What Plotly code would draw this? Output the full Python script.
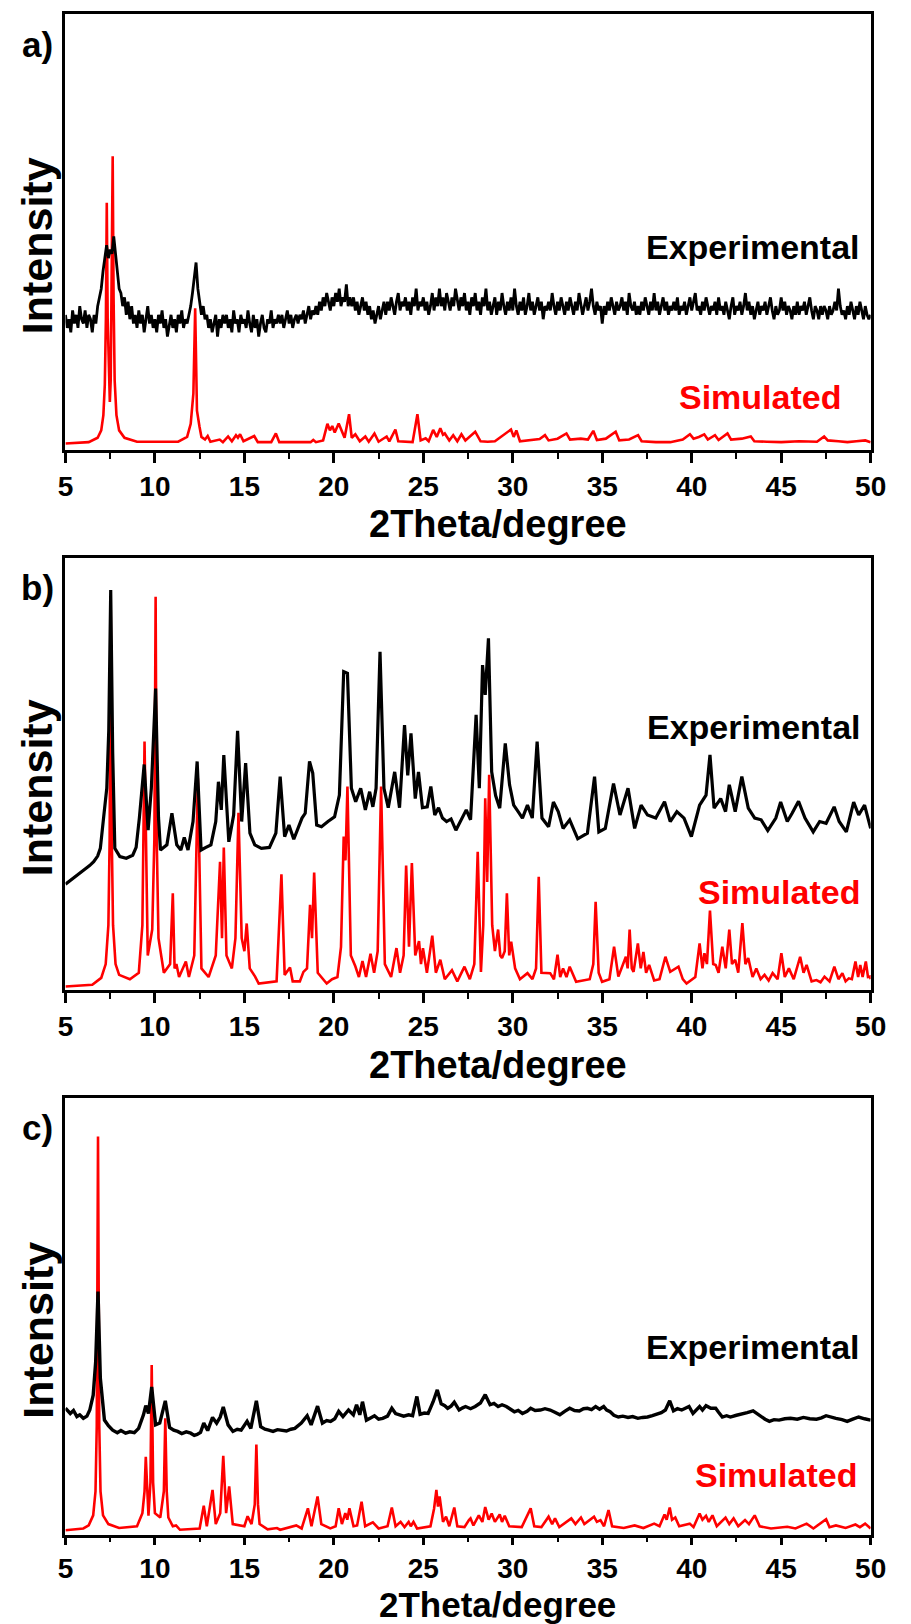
import plotly.graph_objects as go

# ---------------- data (2Theta in degree, intensity in % of panel height) ----------------
# Panel a) experimental: sampled every 0.1 degree from 5.0 to 50.0 (one row per degree)
a_exp_step = 0.1
a_exp_y = [
    31, 28, 30, 27, 32, 29, 31, 28, 33, 30,   # 5
    29, 32, 28, 31, 30, 27, 31, 29, 33, 35,   # 6
    37, 41, 44, 47, 44, 46, 45, 49, 45, 41,   # 7
    37, 36, 33, 35, 31, 34, 30, 33, 29, 31,   # 8
    28, 32, 29, 31, 27, 30, 33, 29, 31, 28,   # 9
    30, 27, 31, 29, 32, 28, 30, 26, 29, 31,   # 10
    28, 30, 27, 31, 29, 32, 28, 30, 29, 31,   # 11
    33, 36, 40, 43, 37, 34, 31, 33, 30, 31,   # 12
    28, 30, 27, 29, 31, 26, 30, 28, 31, 29,   # 13
    31, 28, 30, 27, 32, 29, 30, 27, 31, 29,   # 14
    30, 28, 32, 29, 27, 31, 28, 30, 26, 29,   # 15
    31, 28, 27, 30, 29, 32, 28, 30, 29, 31,   # 16
    29, 31, 28, 30, 32, 29, 31, 28, 30, 31,   # 17
    29, 31, 30, 32, 29, 31, 33, 30, 32, 31,   # 18
    33, 31, 34, 32, 35, 33, 36, 34, 32, 35,   # 19
    33, 36, 34, 37, 33, 35, 34, 38, 33, 35,   # 20
    33, 35, 32, 34, 31, 33, 35, 32, 34, 31,   # 21
    33, 30, 32, 29, 31, 33, 30, 32, 34, 31,   # 22
    34, 32, 35, 33, 31, 34, 36, 32, 34, 33,   # 23
    35, 32, 34, 31, 35, 33, 37, 32, 34, 33,   # 24
    35, 32, 34, 31, 33, 36, 32, 35, 33, 37,   # 25
    33, 35, 32, 36, 34, 32, 35, 33, 37, 34,   # 26
    32, 35, 33, 36, 32, 34, 31, 35, 33, 36,   # 27
    32, 34, 31, 35, 33, 37, 32, 34, 31, 33,   # 28
    35, 31, 34, 32, 36, 33, 31, 34, 32, 35,   # 29
    32, 37, 33, 31, 34, 32, 35, 31, 33, 36,   # 30
    32, 34, 31, 33, 35, 32, 34, 30, 33, 32,   # 31
    34, 32, 36, 33, 31, 34, 32, 35, 33, 31,   # 32
    34, 32, 35, 33, 31, 34, 32, 36, 33, 31,   # 33
    33, 35, 32, 34, 37, 33, 31, 34, 32, 33,   # 34
    29, 33, 31, 34, 32, 35, 33, 31, 34, 32,   # 35
    33, 35, 32, 34, 31, 36, 33, 32, 34, 31,   # 36
    33, 31, 34, 32, 35, 33, 31, 34, 32, 36,   # 37
    32, 34, 31, 33, 35, 32, 34, 31, 33, 32,   # 38
    34, 32, 35, 31, 33, 32, 34, 31, 33, 35,   # 39
    32, 34, 36, 32, 33, 31, 34, 32, 35, 33,   # 40
    31, 33, 32, 34, 31, 35, 32, 33, 31, 34,   # 41
    32, 30, 33, 35, 31, 33, 32, 34, 31, 33,   # 42
    36, 32, 34, 31, 33, 30, 32, 34, 31, 33,   # 43
    32, 34, 31, 33, 35, 32, 30, 33, 31, 32,   # 44
    35, 32, 34, 31, 33, 32, 30, 33, 31, 34,   # 45
    31, 33, 32, 34, 31, 33, 35, 32, 30, 33,   # 46
    32, 30, 33, 31, 33, 32, 30, 33, 31, 32,   # 47
    34, 32, 37, 33, 31, 32, 30, 33, 31, 34,   # 48
    32, 30, 33, 31, 34, 32, 30, 33, 31, 30,   # 49
    31,                                       # 50
]
a_exp_x = [round(5 + a_exp_step * i, 2) for i in range(len(a_exp_y))]

a_sim = [(5.0, 1.5), (6.3, 1.8), (6.8, 2.8), (7.0, 4.5), (7.12, 8), (7.2, 15), (7.26, 30), (7.31, 56.7),
         (7.36, 30), (7.42, 16), (7.48, 11), (7.53, 16), (7.58, 35), (7.64, 67.4), (7.69, 35), (7.75, 16),
         (7.85, 8), (8.0, 4.5), (8.3, 2.8), (9.0, 1.9), (11.3, 1.9), (11.8, 3), (12.0, 6), (12.15, 13),
         (12.25, 32.5), (12.35, 9), (12.49, 5.4), (12.6, 3), (12.8, 2.4), (12.95, 3.2), (13.1, 1.9),
         (13.62, 2.4), (13.8, 1.8), (14.09, 3.1), (14.3, 2.0), (14.53, 3.4), (14.64, 2.8), (14.76, 3.6),
         (14.95, 2.0), (15.55, 3.2), (15.75, 1.8), (16.5, 1.8), (16.76, 3.8), (16.95, 1.8), (18.7, 1.8),
         (18.85, 2.3), (19.0, 1.8), (19.4, 2.2), (19.64, 6.0), (19.78, 4.5), (19.91, 5.5), (20.05, 4.0),
         (20.27, 6.1), (20.4, 4.6), (20.6, 2.8), (20.85, 8.2), (21.0, 2.8), (21.2, 3.6), (21.45, 2.0),
         (21.76, 3.1), (21.95, 1.9), (22.27, 3.8), (22.5, 1.9), (22.95, 3.1), (23.1, 2.0), (23.44, 4.7),
         (23.6, 2.0), (24.4, 1.8), (24.67, 8.2), (24.85, 2.2), (25.13, 2.7), (25.3, 2.0), (25.55, 4.6),
         (25.75, 3.0), (25.95, 5.0), (26.1, 3.5), (26.2, 3.8), (26.45, 2.2), (26.67, 3.4), (26.9, 2.0),
         (27.13, 3.6), (27.35, 2.2), (27.9, 4.2), (28.2, 2.0), (28.6, 1.9), (29.0, 2.0), (29.9, 4.7),
         (30.05, 3.0), (30.2, 4.5), (30.4, 2.0), (31.0, 2.2), (31.5, 2.5), (31.8, 3.4), (32.0, 2.2),
         (32.5, 2.6), (33.0, 3.8), (33.2, 2.4), (33.8, 2.6), (34.2, 2.4), (34.5, 4.4), (34.7, 2.3),
         (35.2, 2.6), (35.75, 4.2), (35.95, 2.2), (36.5, 2.4), (37.0, 3.4), (37.2, 2.0), (38.0, 1.8),
         (38.8, 1.8), (39.5, 2.4), (39.9, 3.6), (40.1, 2.6), (40.4, 3.0), (40.7, 3.6), (40.9, 2.4),
         (41.3, 3.4), (41.5, 2.3), (42.0, 3.8), (42.2, 2.4), (42.8, 2.6), (43.3, 3.1), (43.5, 2.0),
         (44.2, 1.9), (45.0, 1.8), (46.0, 2.0), (47.0, 1.9), (47.4, 3.1), (47.6, 2.2), (48.2, 2.0),
         (48.7, 1.8), (49.2, 2.0), (49.7, 2.2), (50.0, 1.8)]

# Panel b)
b_exp = [(5.0, 24.5), (5.3, 25.5), (5.6, 26.5), (5.85, 27.4), (6.1, 28), (6.35, 28.8), (6.58, 29.7),
         (6.8, 31), (6.95, 32.8), (7.13, 39.8), (7.31, 46.7), (7.42, 60), (7.53, 92.6), (7.64, 55),
         (7.76, 32.8), (8.04, 30.9), (8.4, 30.5), (8.76, 31.2), (8.95, 33), (9.13, 39.8), (9.4, 52.2),
         (9.62, 37.0), (9.8, 46.7), (10.04, 69.8), (10.2, 40), (10.31, 32.4), (10.67, 33.6), (10.95, 40.9),
         (11.22, 33.6), (11.45, 32.4), (11.64, 35.3), (11.85, 32.4), (12.13, 39), (12.36, 52.9),
         (12.58, 32.4), (12.85, 33), (13.13, 33.6), (13.4, 39.0), (13.55, 48.2), (13.71, 41.7),
         (13.85, 54.4), (14.13, 34.3), (14.4, 40.5), (14.62, 60.0), (14.85, 39.0), (15.07, 52.5),
         (15.31, 36.3), (15.58, 33.6), (15.95, 32.8), (16.4, 33.0), (16.76, 36.3), (17.0, 49.4),
         (17.25, 35.5), (17.49, 38.2), (17.76, 34.9), (18.22, 39.8), (18.4, 40.9), (18.64, 52.9),
         (18.82, 50.2), (19.04, 38.2), (19.31, 37.8), (19.67, 39.0), (20.04, 40.1), (20.31, 45.1),
         (20.45, 60), (20.55, 73.7), (20.76, 73.3), (20.88, 60), (20.98, 46.7), (21.22, 43.6),
         (21.5, 46.7), (21.76, 41.7), (22.0, 45.9), (22.18, 42.4), (22.36, 46.7), (22.58, 78.3),
         (22.8, 46.7), (23.04, 42.2), (23.4, 50.5), (23.67, 42.2), (23.95, 61.3), (24.13, 49.7),
         (24.31, 59.4), (24.55, 44.3), (24.73, 50.5), (24.95, 42.2), (25.22, 42.4), (25.42, 47.1),
         (25.64, 40.5), (25.85, 42.2), (26.07, 39.8), (26.3, 39.0), (26.55, 39.6), (26.82, 37),
         (27.13, 39.4), (27.4, 41.7), (27.64, 39.4), (27.95, 63.7), (28.13, 46.7), (28.31, 75.2),
         (28.46, 68.3), (28.64, 81.4), (28.82, 50.5), (29.04, 45), (29.27, 42.1), (29.58, 57.1),
         (29.82, 47.5), (30.05, 42.8), (30.3, 41.3), (30.54, 39.8), (30.82, 42.8), (31.09, 39.8),
         (31.36, 57.5), (31.63, 39.8), (32.0, 37.8), (32.27, 43.5), (32.54, 41.3), (32.81, 37.4),
         (33.18, 39.4), (33.63, 35.0), (34.17, 36.3), (34.57, 49.4), (34.81, 36.6), (35.17, 37.4),
         (35.63, 47.8), (35.99, 40.5), (36.44, 46.7), (36.81, 37.4), (37.17, 42.8), (37.53, 40.5),
         (37.99, 39.8), (38.48, 43.6), (38.8, 39.0), (39.17, 41.3), (39.57, 39.8), (39.98, 35.5),
         (40.44, 42.8), (40.8, 45.1), (41.02, 54.4), (41.25, 42.1), (41.62, 44.3), (41.89, 41.3),
         (42.1, 47.5), (42.43, 41.3), (42.8, 49.4), (43.16, 42.1), (43.52, 39.8), (43.88, 39.4),
         (44.25, 36.9), (44.7, 39.8), (44.97, 43.5), (45.34, 39.0), (45.61, 40.9), (45.97, 43.7),
         (46.33, 39.8), (46.79, 36.6), (47.15, 39.0), (47.51, 38.6), (47.96, 42.4), (48.24, 39.0),
         (48.64, 36.6), (49.05, 43.5), (49.33, 40.5), (49.66, 42.8), (50.0, 37.4)]

b_sim = [(5.0, 0.8), (6.5, 1.2), (7.0, 2.8), (7.25, 6), (7.4, 15), (7.47, 35), (7.53, 89), (7.59, 35),
         (7.66, 15), (7.8, 6), (8.0, 3.5), (8.6, 2.5), (9.1, 4), (9.3, 15), (9.42, 57.5), (9.6, 8),
         (9.85, 14), (9.97, 35), (10.04, 91), (10.1, 35), (10.2, 12), (10.5, 4), (10.85, 6), (11.0, 22.4),
         (11.1, 5), (11.2, 6), (11.35, 3), (11.73, 6.6), (11.9, 3), (12.2, 8), (12.4, 49), (12.6, 5),
         (13.0, 3), (13.4, 8), (13.64, 29.7), (13.75, 12), (13.85, 33), (14.0, 8), (14.3, 5), (14.5, 12),
         (14.67, 41), (14.85, 12), (15.0, 9), (15.13, 15.4), (15.3, 5), (15.6, 3.1), (15.8, 1.5),
         (16.8, 2), (17.07, 26.8), (17.25, 3.5), (17.55, 5.2), (17.7, 2), (18.1, 2), (18.3, 4.2),
         (18.5, 5), (18.67, 19.7), (18.78, 12), (18.9, 27.2), (19.1, 4), (19.6, 1.5), (19.9, 2.5),
         (20.2, 3), (20.4, 10), (20.55, 35.5), (20.65, 30), (20.76, 47.1), (20.95, 8), (21.2, 5.5),
         (21.4, 3), (21.6, 6.7), (21.8, 3), (22.05, 8.4), (22.25, 4), (22.45, 9), (22.64, 47.1),
         (22.85, 6), (23.2, 3), (23.5, 9.7), (23.7, 4), (23.9, 8), (24.04, 28.8), (24.2, 10),
         (24.36, 29.4), (24.55, 8), (24.76, 11.3), (24.87, 6), (24.98, 9.7), (25.2, 4), (25.5, 12.6),
         (25.7, 4), (25.95, 7.0), (26.2, 2.5), (26.6, 4.6), (26.9, 2), (27.3, 5.4), (27.6, 2.5),
         (27.85, 6), (28.04, 32), (28.22, 4.2), (28.35, 15), (28.46, 44.4), (28.57, 25), (28.68, 49.8),
         (28.85, 15), (29.0, 9), (29.18, 14), (29.3, 8), (29.4, 7.4), (29.55, 9), (29.67, 22.4),
         (29.8, 8), (29.91, 11.2), (30.13, 5), (30.4, 2.5), (30.82, 3.9), (31.1, 2.5), (31.3, 5),
         (31.45, 26.2), (31.6, 4), (32.09, 3.9), (32.3, 2.5), (32.5, 8.2), (32.65, 3), (32.81, 5),
         (33.0, 3), (33.18, 5.4), (33.54, 1.9), (34.3, 2.5), (34.5, 6), (34.63, 20.4), (34.8, 4),
         (34.99, 1.9), (35.4, 2.5), (35.66, 10), (35.9, 3.1), (36.32, 7.7), (36.42, 5), (36.53, 14),
         (36.65, 5), (36.75, 4.2), (36.99, 10.8), (37.15, 5), (37.3, 8.8), (37.45, 4), (37.62, 5.8),
         (37.9, 2.2), (38.2, 2.5), (38.53, 7.7), (38.8, 4.2), (39.26, 5.4), (39.5, 2.5), (39.71, 1.5),
         (40.2, 3), (40.44, 10.8), (40.6, 5), (40.71, 8.5), (40.85, 6), (41.02, 18.4), (41.2, 6),
         (41.34, 5.8), (41.5, 4), (41.71, 10), (41.9, 5), (42.1, 14), (42.25, 6), (42.43, 7), (42.6, 4),
         (42.83, 15.5), (43.0, 6), (43.16, 7.4), (43.4, 3), (43.61, 5), (43.85, 2.5), (44.07, 3.5),
         (44.3, 2.2), (44.52, 3.9), (44.8, 2.5), (45.01, 8.5), (45.2, 3), (45.43, 5), (45.7, 2.5),
         (46.06, 7.7), (46.25, 4), (46.42, 5.8), (46.7, 2), (46.97, 2.3), (47.2, 1.8), (47.42, 3.1),
         (47.7, 2), (47.97, 5.4), (48.2, 2.5), (48.42, 3.9), (48.6, 2), (48.78, 2.7), (48.95, 2.5),
         (49.15, 6.6), (49.3, 3), (49.42, 5.8), (49.55, 3), (49.73, 6.6), (49.85, 3), (49.96, 3.1),
         (50.0, 2.5)]

# Panel c)
c_exp = [(5.0, 29.0), (5.27, 27.8), (5.45, 28.5), (5.64, 27.1), (5.8, 27.5), (6.0, 26.7), (6.2, 27.2),
         (6.36, 28.6), (6.55, 32.0), (6.69, 39.7), (6.82, 55.7), (6.95, 35.9), (7.18, 26.3), (7.4, 25),
         (7.64, 24.0), (7.9, 23.4), (8.1, 23.9), (8.36, 23.3), (8.6, 23.6), (8.85, 23.4), (9.09, 24.4),
         (9.36, 27.5), (9.49, 29.6), (9.64, 27.8), (9.82, 33.9), (10.04, 25.2), (10.27, 25.6),
         (10.58, 30.7), (10.82, 24.6), (11.05, 24.0), (11.27, 23.7), (11.5, 23.2), (11.75, 23.6),
         (12.0, 23.3), (12.2, 22.8), (12.36, 23.0), (12.55, 23.5), (12.73, 25.6), (12.95, 23.9),
         (13.22, 26.9), (13.45, 25.6), (13.65, 27), (13.82, 29.3), (14.09, 25.2), (14.36, 23.7),
         (14.6, 24.2), (14.82, 24.0), (15.15, 26.0), (15.36, 24.4), (15.67, 30.7), (15.91, 24.8),
         (16.15, 24.2), (16.36, 24.0), (16.6, 23.7), (16.85, 24.1), (17.09, 24.0), (17.35, 23.8),
         (17.6, 24.2), (17.82, 24.4), (18.18, 25.6), (18.51, 27.3), (18.73, 25.2), (19.09, 29.5),
         (19.36, 25.6), (19.6, 26.2), (19.82, 26.0), (20.05, 26.6), (20.27, 28.3), (20.51, 27.1),
         (20.82, 28.6), (21.09, 27.5), (21.27, 29.8), (21.45, 27.5), (21.6, 30.5), (21.82, 26.3),
         (22.05, 26.8), (22.27, 27.3), (22.5, 26.5), (22.73, 26.7), (23.0, 27.2), (23.24, 29.0),
         (23.45, 27.8), (23.64, 27.6), (23.9, 27.2), (24.18, 27.5), (24.4, 27.3), (24.64, 31.7),
         (24.82, 27.6), (25.05, 27.9), (25.27, 27.8), (25.55, 30.5), (25.78, 33.2), (26.0, 30.0),
         (26.2, 29.6), (26.36, 29.0), (26.55, 29.5), (26.73, 30.4), (27.0, 28.6), (27.2, 29.1),
         (27.36, 29.4), (27.64, 28.9), (27.9, 29.4), (28.19, 30.2), (28.46, 32.1), (28.73, 29.8),
         (28.95, 30.1), (29.18, 29.4), (29.4, 29.8), (29.64, 29.4), (29.85, 28.9), (30.09, 28.2),
         (30.3, 28.5), (30.54, 27.8), (30.8, 28.3), (31.0, 29.0), (31.25, 28.5), (31.54, 28.6),
         (31.8, 28.9), (32.09, 28.6), (32.35, 28.1), (32.63, 27.5), (32.9, 28.3), (33.18, 29.0),
         (33.45, 28.5), (33.72, 28.4), (33.95, 28.9), (34.17, 29.0), (34.4, 28.7), (34.63, 29.4),
         (34.85, 28.8), (35.08, 29.4), (35.25, 28.6), (35.44, 28.2), (35.65, 27.4), (35.9, 27.0),
         (36.15, 27.2), (36.44, 26.9), (36.7, 27.1), (36.99, 26.7), (37.25, 26.9), (37.53, 27.0),
         (37.8, 27.3), (38.08, 27.6), (38.3, 28.0), (38.53, 28.6), (38.77, 30.7), (38.98, 28.4),
         (39.2, 28.9), (39.44, 28.6), (39.65, 29.0), (39.85, 29.4), (40.07, 27.8), (40.25, 28.7),
         (40.44, 29.4), (40.6, 28.6), (40.8, 29.6), (41.07, 29.0), (41.34, 29.0), (41.5, 28.1),
         (41.71, 27.0), (41.95, 27.3), (42.16, 27.0), (42.5, 27.4), (42.79, 27.6), (43.1, 28.0),
         (43.43, 28.4), (43.65, 27.8), (43.88, 27.0), (44.1, 26.5), (44.34, 26.0), (44.6, 26.4),
         (44.88, 26.3), (45.2, 26.6), (45.52, 26.7), (45.9, 26.5), (46.24, 26.9), (46.6, 26.6),
         (46.97, 26.5), (47.25, 26.8), (47.51, 27.3), (47.8, 26.9), (48.06, 26.7), (48.4, 26.4),
         (48.69, 26.0), (49.0, 26.5), (49.33, 27.0), (49.66, 26.6), (50.0, 26.3)]

c_sim = [(5.0, 1.1), (6.0, 1.5), (6.3, 2.2), (6.55, 4.5), (6.68, 10), (6.75, 25), (6.82, 91.2),
         (6.89, 25), (6.96, 10), (7.1, 4.5), (7.4, 2.5), (8.0, 1.6), (9.0, 2), (9.3, 5), (9.42, 10),
         (9.49, 17.9), (9.64, 4.4), (9.75, 12), (9.82, 38.9), (9.9, 12), (10.0, 5), (10.3, 4), (10.5, 10),
         (10.58, 26.7), (10.66, 10), (10.75, 4), (11.0, 2), (11.18, 2.2), (11.4, 1.2), (12.5, 1.5),
         (12.73, 6.7), (12.9, 2), (13.22, 10.3), (13.4, 2.5), (13.65, 5), (13.82, 18.1), (13.98, 5),
         (14.15, 11.1), (14.35, 2.5), (15.0, 2), (15.18, 4.3), (15.4, 2.5), (15.58, 7), (15.67, 20.7),
         (15.76, 7), (15.85, 2.5), (16.3, 1.3), (16.82, 1.6), (17.0, 1.2), (17.9, 2.2), (18.2, 1.5),
         (18.55, 6.1), (18.75, 2), (19.09, 8.8), (19.3, 2.5), (19.8, 1.5), (20.1, 2), (20.27, 6.1),
         (20.45, 2.5), (20.64, 5.0), (20.75, 3.5), (20.87, 6.1), (21.1, 2), (21.3, 2.2), (21.55, 7.6),
         (21.75, 2), (22.18, 2.9), (22.5, 1.5), (23.0, 2), (23.24, 6.3), (23.45, 2), (23.73, 3.0),
         (23.95, 1.8), (24.18, 3.0), (24.3, 2), (24.45, 3.0), (24.65, 1.5), (25.4, 2), (25.6, 6),
         (25.73, 10.3), (25.82, 6.5), (25.91, 8.8), (26.1, 3), (26.27, 4.2), (26.45, 2), (26.73, 6.3),
         (26.9, 2), (27.3, 1.8), (27.55, 3.4), (27.64, 3.8), (27.8, 2.2), (28.1, 4.5), (28.3, 3),
         (28.46, 6.4), (28.65, 3.5), (28.82, 4.9), (29.0, 3), (29.27, 4.7), (29.4, 3), (29.55, 4.4),
         (29.8, 2), (30.5, 1.8), (31.0, 6.1), (31.2, 2), (31.6, 1.8), (32.0, 4.2), (32.2, 2.5),
         (32.36, 3.8), (32.6, 1.8), (33.27, 3.8), (33.5, 2.5), (33.81, 4.0), (34.0, 2.5), (34.54, 4.2),
         (34.7, 3), (34.9, 3.4), (35.1, 2), (35.35, 5.7), (35.55, 2), (36.2, 1.6), (36.81, 2.2),
         (37.3, 1.6), (37.9, 2.6), (38.2, 2), (38.48, 4.7), (38.6, 3.5), (38.77, 6.3), (38.9, 3.5),
         (39.08, 4.0), (39.3, 2), (39.89, 2.6), (40.1, 1.8), (40.44, 4.9), (40.6, 3.5), (40.8, 4.4),
         (40.95, 3), (41.16, 4.5), (41.4, 2), (41.89, 4.0), (42.1, 2.5), (42.34, 3.8), (42.6, 2),
         (42.98, 3.4), (43.2, 2.5), (43.52, 4.5), (43.8, 2), (44.43, 1.5), (45.34, 1.9), (45.8, 1.5),
         (46.42, 2.6), (46.8, 1.5), (47.51, 3.6), (47.7, 1.8), (48.06, 2.2), (48.6, 1.6), (49.15, 2.4),
         (49.4, 1.8), (49.69, 2.6), (50.0, 1.5)]

panel_labels = ["a)", "b)", "c)"]
exp_label = "Experimental"
sim_label = "Simulated"
x_title = "2Theta/degree"
y_title = "Intensity"
x_ticks = [5, 10, 15, 20, 25, 30, 35, 40, 45, 50]
x_minor_ticks = [7.5, 12.5, 17.5, 22.5, 27.5, 32.5, 37.5, 42.5, 47.5]

# ---------------- figure ----------------
W, H = 911, 1624
FONT = "Liberation Sans, Arial, sans-serif"
X0, X1 = 59, 886
panels = [(14, 450), (558, 990), (1098, 1535)]   # top, bottom pixel of each plot box
tick_len = [10, 10, 7]
title_y = [524, 1065, 1604]
title_size = [38, 38, 35]


def px(x):
    return x / W


def py(y):
    return 1 - y / H


def unzip(pairs):
    return [p[0] for p in pairs], [p[1] for p in pairs]


b_exp_x, b_exp_y = unzip(b_exp)
c_exp_x, c_exp_y = unzip(c_exp)
a_sim_x, a_sim_y = unzip(a_sim)
b_sim_x, b_sim_y = unzip(b_sim)
c_sim_x, c_sim_y = unzip(c_sim)

series = [
    (a_exp_x, a_exp_y, a_sim_x, a_sim_y, 2.8),
    (b_exp_x, b_exp_y, b_sim_x, b_sim_y, 3.2),
    (c_exp_x, c_exp_y, c_sim_x, c_sim_y, 3.4),
]

fig = go.Figure()
layout = dict(
    width=W, height=H, margin=dict(l=0, r=0, t=0, b=0),
    paper_bgcolor="white", plot_bgcolor="white", showlegend=False,
    font=dict(family=FONT, color="black"),
)

for i, (ex, ey, sx, sy, ew) in enumerate(series):
    n = "" if i == 0 else str(i + 1)
    fig.add_trace(go.Scatter(x=sx, y=sy, mode="lines", line=dict(color="#ff0000", width=2.6),
                             xaxis="x" + n, yaxis="y" + n, hoverinfo="skip"))
    fig.add_trace(go.Scatter(x=ex, y=ey, mode="lines", line=dict(color="black", width=ew),
                             xaxis="x" + n, yaxis="y" + n, hoverinfo="skip"))
    top, bot = panels[i]
    layout["xaxis" + n] = dict(
        domain=[px(X0), px(X1)], range=[5, 50], anchor="y" + n,
        showline=True, linecolor="black", linewidth=2.6, mirror=True,
        showgrid=False, zeroline=False,
        ticks="outside", ticklen=tick_len[i], tickwidth=2.6, tickcolor="black",
        tickvals=x_ticks, ticktext=[str(t) for t in x_ticks],
        tickfont=dict(family=FONT, size=28, color="black", weight="bold"),
        minor=dict(ticks="outside", ticklen=max(4, tick_len[i] - 4), tickwidth=2.2, tickcolor="black",
                   tickvals=x_minor_ticks),
    )
    layout["yaxis" + n] = dict(
        domain=[py(bot), py(top)], range=[0, 100], anchor="x" + n,
        showline=True, linecolor="black", linewidth=2.6, mirror=True,
        showgrid=False, zeroline=False, showticklabels=False, ticks="",
    )

ann = []
exp_pos = [(877, 247), (878, 727), (877, 1347)]
sim_pos = [(858, 397), (877, 892), (874, 1475)]
lab_y = [44, 588, 1127]
for i, (top, bot) in enumerate(panels):
    ann.append(dict(text="<b>%s</b>" % panel_labels[i], x=px(30), y=py(lab_y[i]),
                    xref="paper", yref="paper", showarrow=False, xanchor="center", yanchor="middle",
                    font=dict(family=FONT, size=35, color="black")))
    ann.append(dict(text="<b>%s</b>" % y_title, x=px(30), y=py((top + bot) / 2 + 14),
                    xref="paper", yref="paper", showarrow=False, xanchor="center", yanchor="middle",
                    textangle=-90, font=dict(family=FONT, size=43, color="black")))
    ann.append(dict(text="<b>%s</b>" % x_title, x=px(503), y=py(title_y[i]),
                    xref="paper", yref="paper", showarrow=False, xanchor="center", yanchor="middle",
                    font=dict(family=FONT, size=title_size[i], color="black")))
    ann.append(dict(text="<b>%s</b>" % exp_label, x=px(exp_pos[i][0]), y=py(exp_pos[i][1]),
                    xref="paper", yref="paper", showarrow=False, xanchor="right", yanchor="middle",
                    font=dict(family=FONT, size=34, color="black")))
    ann.append(dict(text="<b>%s</b>" % sim_label, x=px(sim_pos[i][0]), y=py(sim_pos[i][1]),
                    xref="paper", yref="paper", showarrow=False, xanchor="right", yanchor="middle",
                    font=dict(family=FONT, size=34, color="#ff0000")))
layout["annotations"] = ann
fig.update_layout(**layout)
fig.write_html("out.html")
